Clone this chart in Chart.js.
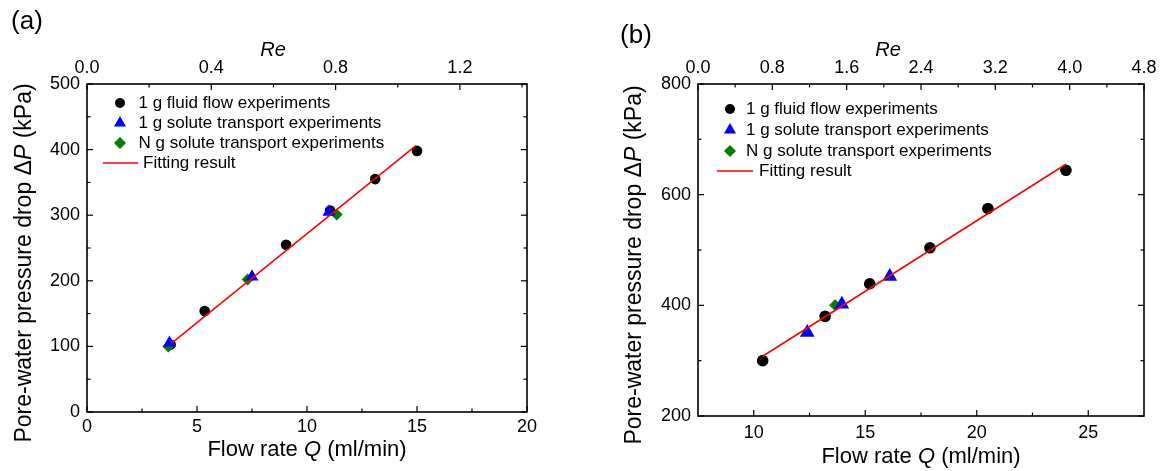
<!DOCTYPE html>
<html>
<head>
<meta charset="utf-8">
<script src="https://cdn.jsdelivr.net/npm/chart.js@4.4.1/dist/chart.umd.min.js"></script>
<style>
  html, body { margin: 0; padding: 0; background: #fff; }
  #wrap { position: relative; width: 1162px; height: 471px; }
  canvas { position: absolute; top: 0; }
  #chartA { left: 0; }
  #chartB { left: 580px; }
</style>
</head>
<body>
<div id="wrap">
  <canvas id="chartA" width="580" height="471"></canvas>
  <canvas id="chartB" width="582" height="471"></canvas>
</div>
<script>
const FONT = 'Arial, "Liberation Sans", Helvetica, sans-serif';

// panel (a)
const qTicksA = [0, 5, 10, 15, 20];
const pTicksA = [0, 100, 200, 300, 400, 500];
const reTicksA = [0.0, 0.4, 0.8, 1.2];
const fluidQA = [3.8, 5.35, 9.05, 11.05, 13.1, 15.0];
const fluidPA = [103, 154, 255, 307, 355, 398];
const soluteQA = [3.75, 7.5, 11.0];
const solutePA = [105, 206, 305];
const ngQA = [3.7, 7.3, 11.35];
const ngPA = [100, 202, 301];
const fitQA = [3.85, 14.95];
const fitPA = [105, 406];

// panel (b)
const qTicksB = [10, 15, 20, 25];
const pTicksB = [200, 400, 600, 800];
const reTicksB = [0.0, 0.8, 1.6, 2.4, 3.2, 4.0, 4.8];
const fluidQB = [10.4, 13.2, 15.2, 17.9, 20.5, 24.0];
const fluidPB = [300, 380, 439, 504, 575, 644];
const soluteQB = [12.4, 13.95, 16.1];
const solutePB = [351, 402, 452];
const ngQB = [13.65];
const ngPB = [400];
const fitQB = [10.4, 24.0];
const fitPB = [308, 655];

const legendLabels = [
  '1 g fluid flow experiments',
  '1 g solute transport experiments',
  'N g solute transport experiments',
  'Fitting result'
];

const pts = (xs, ys) => xs.map((x, i) => ({ x, y: ys[i] }));

function minorsOf(scale, majors) {
  const out = [];
  const step = majors[1] - majors[0];
  for (let v = majors[0] - step / 2; v <= scale.max + 1e-9; v += step) {
    if (v > scale.min + 1e-9 && v < scale.max - 1e-9) out.push(v);
  }
  return out;
}

function marker(ctx, style, x, y, r, color) {
  ctx.fillStyle = color;
  ctx.beginPath();
  if (style === 'circle') {
    ctx.arc(x, y, r, 0, Math.PI * 2);
  } else if (style === 'triangle') {
    for (let k = 0; k < 3; k++) {
      const a = k * 2 * Math.PI / 3;
      const px = x + Math.sin(a) * r, py = y - Math.cos(a) * r;
      k ? ctx.lineTo(px, py) : ctx.moveTo(px, py);
    }
  } else {
    ctx.moveTo(x - r, y); ctx.lineTo(x, y - r); ctx.lineTo(x + r, y); ctx.lineTo(x, y + r);
  }
  ctx.closePath();
  ctx.fill();
}

function textRun(ctx, parts, cx, cy, size) {
  const widths = parts.map(p => { ctx.font = (p[1] ? 'italic ' : '') + size + 'px ' + FONT; return ctx.measureText(p[0]).width; });
  let x = cx - widths.reduce((s, w) => s + w, 0) / 2;
  parts.forEach((p, i) => {
    ctx.font = (p[1] ? 'italic ' : '') + size + 'px ' + FONT;
    ctx.fillText(p[0], x, cy);
    x += widths[i];
  });
}

// frame, inward ticks, titles, legend, panel label
const decor = {
  id: 'decor',
  afterDraw(chart, args, o) {
    const { ctx, chartArea: a, scales } = chart;
    ctx.save();
    ctx.strokeStyle = '#000';
    ctx.lineWidth = 1.6;
    ctx.strokeRect(a.left, a.top, a.right - a.left, a.bottom - a.top);

    ctx.lineWidth = 1.2;
    const line = (x1, y1, x2, y2) => { ctx.beginPath(); ctx.moveTo(x1, y1); ctx.lineTo(x2, y2); ctx.stroke(); };
    const MAJ = 6, MIN = 3.5;
    const xs = scales.x, ys = scales.y, rs = scales.re;
    const xm = xs.ticks.map(t => t.value), ym = ys.ticks.map(t => t.value), rm = rs.ticks.map(t => t.value);
    xm.forEach(v => { const p = xs.getPixelForValue(v); line(p, a.bottom, p, a.bottom - MAJ); });
    minorsOf(xs, xm).forEach(v => { const p = xs.getPixelForValue(v); line(p, a.bottom, p, a.bottom - MIN); });
    rm.forEach(v => { const p = rs.getPixelForValue(v); line(p, a.top, p, a.top + MAJ); });
    minorsOf(rs, rm).forEach(v => { const p = rs.getPixelForValue(v); line(p, a.top, p, a.top + MIN); });
    ym.forEach(v => { const p = ys.getPixelForValue(v); line(a.left, p, a.left + MAJ, p); line(a.right, p, a.right - MAJ, p); });
    minorsOf(ys, ym).forEach(v => { const p = ys.getPixelForValue(v); line(a.left, p, a.left + MIN, p); line(a.right, p, a.right - MIN, p); });

    ctx.fillStyle = '#000';
    ctx.textBaseline = 'middle';
    ctx.textAlign = 'left';
    textRun(ctx, [['Flow rate ', false], ['Q', true], [' (ml/min)', false]], o.xTitle[0], o.xTitle[1], 22);
    textRun(ctx, [['Re', true]], o.reTitle[0], o.reTitle[1], 20);
    ctx.save();
    ctx.translate(o.yTitle[0], o.yTitle[1]);
    ctx.rotate(-Math.PI / 2);
    textRun(ctx, [['Pore-water pressure drop \u0394', false], ['P', true], [' (kPa)', false]], 0, 0, 23);
    ctx.restore();
    textRun(ctx, [[o.panel, false]], o.panelPos[0], o.panelPos[1], 26);

    // legend
    const L = o.legend;
    ctx.font = L.size + 'px ' + FONT;
    chart.data.datasets.forEach((ds, i) => {
      const y = L.rows[i];
      ctx.fillStyle = '#000';
      if (ds.showLine) {
        ctx.strokeStyle = ds.borderColor;
        ctx.lineWidth = ds.borderWidth;
        line(L.lineX[0], y, L.lineX[1], y);
        ctx.fillStyle = '#000';
        ctx.fillText(ds.label, L.lineTextX, y);
      } else {
        marker(ctx, ds.pointStyle, L.markX, y, L.radius[ds.pointStyle], ds.backgroundColor);
        ctx.fillStyle = '#000';
        ctx.fillText(ds.label, L.textX, y);
      }
    });
    ctx.restore();
  }
};

function makeChart(id, c) {
  const tickFont = { family: FONT, size: 18 };
  return new Chart(document.getElementById(id), {
    type: 'scatter',
    data: {
      datasets: [
        { label: legendLabels[0], data: pts(c.fluid[0], c.fluid[1]), pointStyle: 'circle', pointRadius: c.r.circle,
          backgroundColor: '#000000', borderColor: '#000000', borderWidth: 0, order: 3 },
        { label: legendLabels[1], data: pts(c.solute[0], c.solute[1]), pointStyle: 'triangle', pointRadius: c.r.triangle,
          backgroundColor: '#0000ff', borderColor: '#0000ff', borderWidth: 0, order: 1 },
        { label: legendLabels[2], data: pts(c.ng[0], c.ng[1]), pointStyle: 'rectRot', pointRadius: c.r.rectRot,
          backgroundColor: '#007f00', borderColor: '#007f00', borderWidth: 0, order: 2 },
        { label: legendLabels[3], data: pts(c.fit[0], c.fit[1]), showLine: true, pointRadius: 0,
          borderColor: '#ff0000', backgroundColor: '#ff0000', borderWidth: 1.6, order: 0 }
      ]
    },
    options: {
      responsive: false,
      animation: false,
      events: [],
      layout: { padding: { left: 0, top: 0, bottom: 0, right: c.padRight } },
      plugins: {
        legend: { display: false },
        tooltip: { enabled: false },
        decor: c.decor
      },
      scales: {
        x: {
          type: 'linear', position: 'bottom', min: c.qRange[0], max: c.qRange[1],
          grid: { display: false, drawTicks: false }, border: { display: false },
          ticks: { font: tickFont, color: '#000', padding: c.padBottom },
          afterBuildTicks: s => { s.ticks = c.qTicks.map(v => ({ value: v })); },
          afterFit: s => { s.height = c.bottomH; }
        },
        y: {
          type: 'linear', position: 'left', min: c.pRange[0], max: c.pRange[1],
          grid: { display: false, drawTicks: false }, border: { display: false },
          ticks: { font: tickFont, color: '#000', padding: 7 },
          afterBuildTicks: s => { s.ticks = c.pTicks.map(v => ({ value: v })); },
          afterFit: s => { s.width = c.leftW; }
        },
        re: {
          type: 'linear', position: 'top', min: 0, max: c.reMax,
          grid: { display: false, drawTicks: false }, border: { display: false },
          ticks: { font: tickFont, color: '#000', padding: 5, callback: v => Number(v).toFixed(1) },
          afterBuildTicks: s => { s.ticks = c.reTicks.map(v => ({ value: v })); },
          afterFit: s => { s.height = 84; }
        }
      }
    },
    plugins: [decor]
  });
}

makeChart('chartA', {
  fluid: [fluidQA, fluidPA], solute: [soluteQA, solutePA], ng: [ngQA, ngPA], fit: [fitQA, fitPA],
  qRange: [0, 20], pRange: [0, 500], reMax: 1.416,
  qTicks: qTicksA, pTicks: pTicksA, reTicks: reTicksA,
  r: { circle: 5.3, triangle: 7.5, rectRot: 6 },
  leftW: 87, bottomH: 59, padRight: 53, padBottom: 4,
  decor: {
    xTitle: [307, 450], yTitle: [25, 263], reTitle: [273, 50], panel: '(a)', panelPos: [27, 22],
    legend: { size: 17, markX: 120, textX: 138.5, lineX: [103, 138], lineTextX: 143,
      rows: [103, 123, 143, 163], radius: { circle: 5, triangle: 7, rectRot: 6 } }
  }
});

makeChart('chartB', {
  fluid: [fluidQB, fluidPB], solute: [soluteQB, solutePB], ng: [ngQB, ngPB], fit: [fitQB, fitPB],
  qRange: [7.5, 27.5], pRange: [200, 800], reMax: 4.8,
  qTicks: qTicksB, pTicks: pTicksB, reTicks: reTicksB,
  r: { circle: 5.8, triangle: 8.5, rectRot: 6 },
  leftW: 118, bottomH: 55, padRight: 18, padBottom: 6,
  decor: {
    xTitle: [341, 457], yTitle: [55, 265], reTitle: [308, 50], panel: '(b)', panelPos: [56, 36],
    legend: { size: 17, markX: 150, textX: 166, lineX: [137, 173], lineTextX: 179,
      rows: [109, 130, 151, 171], radius: { circle: 5, triangle: 7, rectRot: 6 } }
  }
});
</script>
</body>
</html>
